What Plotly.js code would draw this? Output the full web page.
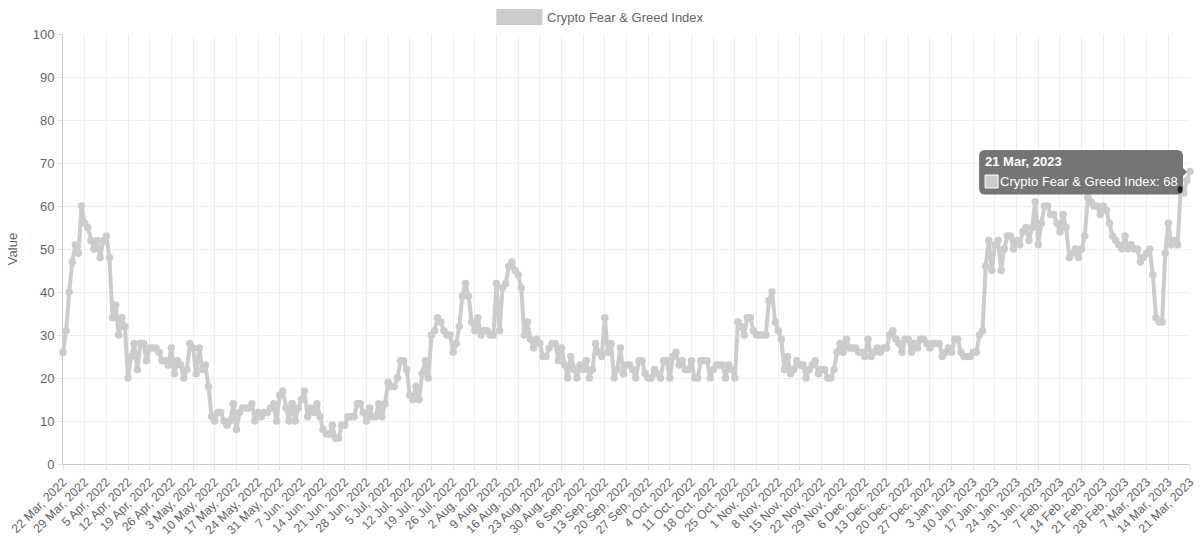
<!DOCTYPE html>
<html><head><meta charset="utf-8">
<script src="https://cdn.plot.ly/plotly-3.0.1.min.js"></script>
<style>html,body{margin:0;padding:0;background:#fff}#c{width:1200px;height:540px}</style>
</head><body><div id="c"></div>
<script>
const seriesName = "Crypto Fear & Greed Index";
const startDate = "2022-03-22";
const mar22 = [26,31,40,47,51,49,60,56,55,52];
const apr22 = [50,52,48,52,53,48,34,37,30,34,32,20,25,28,22,28,28,24,27,27,27,26,24,24,23,27,21,24,23,20];
const may22 = [22,28,27,21,27,22,23,18,11,10,12,12,10,9,10,14,8,12,13,13,13,14,10,12,11,12,12,13,14,10,16];
const jun22 = [17,13,10,14,10,13,15,17,11,13,12,14,11,8,7,7,9,6,6,9,9,11,11,11,14,14,12,10,13,11];
const jul22 = [11,14,11,14,19,18,18,20,24,24,22,16,15,18,15,21,24,20,30,31,34,33,31,30,30,26,28,32,39,42,39];
const aug22 = [33,31,34,30,31,31,30,30,42,31,41,42,46,47,45,44,41,30,33,29,27,29,28,25,25,27,28,28,24,27,23];
const sep22 = [20,25,22,20,23,22,24,20,22,28,26,25,34,26,28,20,22,27,21,23,23,22,20,24,24,21,20,20,22,21];
const oct22 = [20,24,24,20,25,26,23,24,22,22,24,20,20,24,24,24,20,22,23,23,23,20,23,22,20,33,32,30,34,34,31];
const nov22 = [30,30,30,30,38,40,33,31,29,22,25,21,22,24,23,23,20,22,23,24,21,22,22,20,20,22,26,28,26,29];
const dec22 = [27,27,27,26,26,25,29,25,26,27,26,27,27,30,31,29,28,26,29,29,26,28,27,29,29,28,27,28,28,28,25];
const jan23 = [26,27,26,29,29,26,25,25,25,26,26,30,31,46,52,45,51,52,45,50,53,53,50,52,51,54,55,52,55,61,51];
const feb23 = [56,60,60,58,58,56,54,58,55,48,49,50,48,50,53,62,61,60,60,58,60,59,56,53,52,51,50,53];
const mar23 = [50,51,50,50,47,48,49,50,44,34,33,33,49,56,51,52,51,64,63,66,68];
const tickLabels = ["22 Mar, 2022","29 Mar, 2022","5 Apr, 2022","12 Apr, 2022","19 Apr, 2022","26 Apr, 2022","3 May, 2022","10 May, 2022","17 May, 2022","24 May, 2022","31 May, 2022","7 Jun, 2022","14 Jun, 2022","21 Jun, 2022","28 Jun, 2022","5 Jul, 2022","12 Jul, 2022","19 Jul, 2022","26 Jul, 2022","2 Aug, 2022","9 Aug, 2022","16 Aug, 2022","23 Aug, 2022","30 Aug, 2022","6 Sep, 2022","13 Sep, 2022","20 Sep, 2022","27 Sep, 2022","4 Oct, 2022","11 Oct, 2022","18 Oct, 2022","25 Oct, 2022","1 Nov, 2022","8 Nov, 2022","15 Nov, 2022","22 Nov, 2022","29 Nov, 2022","6 Dec, 2022","13 Dec, 2022","20 Dec, 2022","27 Dec, 2022","3 Jan, 2023","10 Jan, 2023","17 Jan, 2023","24 Jan, 2023","31 Jan, 2023","7 Feb, 2023","14 Feb, 2023","21 Feb, 2023","28 Feb, 2023","7 Mar, 2023","14 Mar, 2023","21 Mar, 2023"];
const yTicks = [0,10,20,30,40,50,60,70,80,90,100];

const values = [].concat(mar22,apr22,may22,jun22,jul22,aug22,sep22,oct22,nov22,dec22,jan23,feb23,mar23);
const months = ["Jan","Feb","Mar","Apr","May","Jun","Jul","Aug","Sep","Oct","Nov","Dec"];
const start = Date.parse(startDate);
const days = values.map((_, i) => {
  const d = new Date(start + i*86400000);
  return d.getUTCDate()+" "+months[d.getUTCMonth()]+", "+d.getUTCFullYear();
});

const L=62.5,R=1190,T=34,B=464;
const px = x => (x-L)/(R-L), py = y => (B-y)/(B-T);
const font = "Liberation Sans, Arial, Helvetica, sans-serif";
const tipColor = "#757575";
const roundRect = (x0,y0,x1,y1,r) => {
  const X0=px(x0),X1=px(x1),Y0=py(y0),Y1=py(y1),rx=r/(R-L),ry=r/(B-T);
  return `M${X0+rx},${Y0} L${X1-rx},${Y0} Q${X1},${Y0} ${X1},${Y0-ry} L${X1},${py(168)} L${px(1187)},${py(172)} L${X1},${py(176)} L${X1},${Y1+ry} Q${X1},${Y1} ${X1-rx},${Y1} L${X0+rx},${Y1} Q${X0},${Y1} ${X0},${Y1+ry} L${X0},${Y0-ry} Q${X0},${Y0} ${X0+rx},${Y0} Z`;
};

const axisBase = {
  showgrid:true, gridcolor:"#eeeeee", gridwidth:1,
  showline:true, linecolor:"#cccccc", linewidth:1,
  ticks:"outside", ticklen:5, tickcolor:"#e4e4e4",
  zeroline:false
};

const traces = [
  {type:"scatter",mode:"lines+markers",name:seriesName,x:days,y:values,
   line:{color:"#cccccc",width:4},marker:{color:"#cccccc",size:7.5},cliponaxis:false},
];

const layout = {
  width:1200,height:540,paper_bgcolor:"#fff",plot_bgcolor:"#fff",showlegend:false,
  margin:{l:L,r:1200-R,t:T,b:540-B,autoexpand:false},
  font:{family:font,color:"#666666"},
  xaxis:Object.assign({},axisBase,{type:"category",categoryorder:"array",categoryarray:days,range:[0,values.length-1],
    tickmode:"array",tickvals:tickLabels,ticktext:tickLabels,tickangle:-45,
    tickfont:{family:font,size:12.3,color:"#666666"}}),
  yaxis:Object.assign({},axisBase,{range:[0,100],tickmode:"array",tickvals:yTicks,
    tickfont:{family:font,size:13,color:"#666666"},
    title:{text:"Value",font:{family:font,size:13,color:"#666666"},standoff:12}}),
  shapes:[
    {type:"rect",xref:"paper",yref:"paper",x0:px(496),x1:px(542),y0:py(9),y1:py(25),fillcolor:"#cccccc",line:{width:0},layer:"above"},
    {type:"path",xref:"paper",yref:"paper",path:roundRect(979,150,1183,194.5,6),fillcolor:tipColor,line:{width:0},layer:"above"},
    {type:"rect",xref:"paper",yref:"paper",x0:px(985),x1:px(998),y0:py(175),y1:py(188),fillcolor:"#cccccc",line:{color:"#ffffff",width:1},layer:"above"},
    {type:"circle",xref:"paper",yref:"paper",x0:px(1177.5),x1:px(1182.5),y0:py(186),y1:py(193),fillcolor:"#222222",line:{width:0},layer:"above"}
  ],
  annotations:[
    {xref:"paper",yref:"paper",x:px(545),y:py(17),xanchor:"left",yanchor:"middle",showarrow:false,text:seriesName,font:{family:font,size:13,color:"#666666"}},
    {xref:"paper",yref:"paper",x:px(983),y:py(161.5),xanchor:"left",yanchor:"middle",showarrow:false,text:"<b>"+days[values.length-1]+"</b>",font:{family:font,size:13,color:"#ffffff"}},
    {xref:"paper",yref:"paper",x:px(998),y:py(181.5),xanchor:"left",yanchor:"middle",showarrow:false,text:seriesName+": "+values[values.length-1],font:{family:font,size:13,color:"#ffffff"}}
  ]
};
Plotly.newPlot("c",traces,layout,{displayModeBar:false,responsive:false});
</script></body></html>
